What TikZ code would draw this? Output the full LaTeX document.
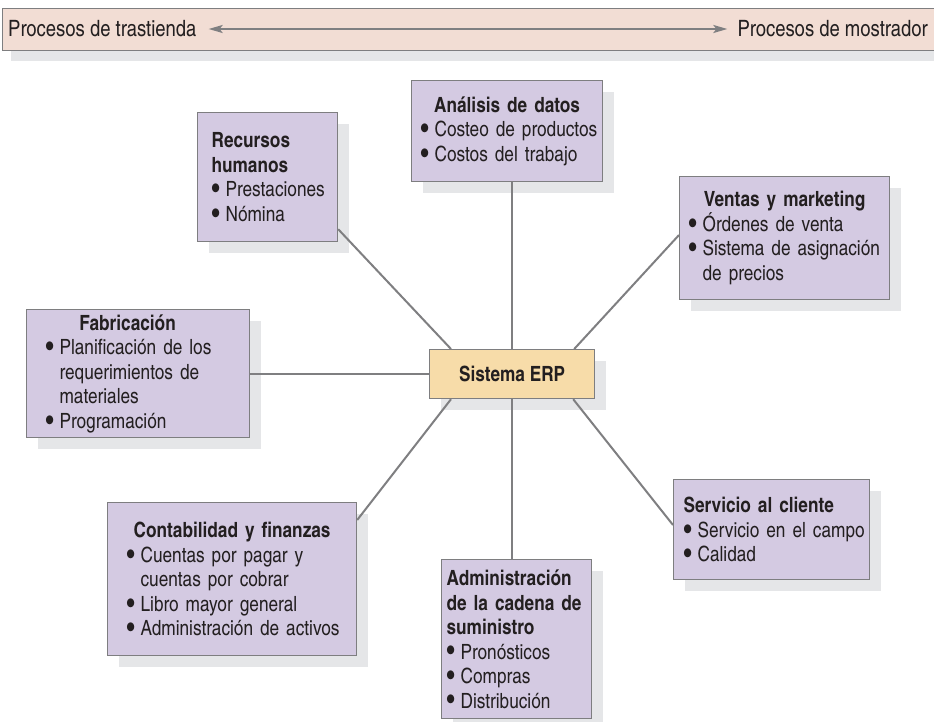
\documentclass[tikz,border=0pt]{standalone}
\usepackage{fontspec}
\usepackage{graphicx}
\setmainfont{texgyreheroscn-regular.otf}[BoldFont=texgyreheroscn-bold.otf]
\usetikzlibrary{shadows,arrows.meta,calc}
\definecolor{ink}{HTML}{231F20}
\definecolor{boxfill}{HTML}{D4CAE2}
\definecolor{erpfill}{HTML}{F7DCA9}
\definecolor{bannerfill}{HTML}{F2DDD4}
\definecolor{edge}{HTML}{7E7E80}
\definecolor{shade}{HTML}{E5E6E8}
\definecolor{linkgray}{HTML}{7F7F81}
\setlength\parindent{0pt}
\hfuzz=200pt
\newlength\bulletw \setlength\bulletw{14pt}
\newcommand\boxtitle[1]{{\bfseries\mbox{#1}\par}}
\newcommand\ctitle[1]{{\centering\bfseries\mbox{#1}\par}}
\newcommand\wtitle[2]{{\bfseries\makebox[#1][c]{#2}\par}}
\newcommand\dotmark{\smash{\raisebox{-0.09em}{\scalebox{1.35}{\textbullet}}}}
\newcommand\bitem[1]{\makebox[\bulletw][l]{\dotmark}\mbox{#1}\par}
\newcommand\cont[1]{\leavevmode\hspace*{\bulletw}\mbox{#1}\par}
\tikzset{
  txt/.style={text=ink, font=\fontsize{21}{24.5}\selectfont},
  panel/.style={txt, draw=edge, line width=1.2pt, fill=boxfill, anchor=north west,
    align=left, inner ysep=0pt,
    drop shadow={shadow xshift=11pt, shadow yshift=-11pt, fill=shade, opacity=1}},
  link/.style={draw=linkgray, line width=2pt},
  bannertxt/.style={text=ink, font=\fontsize{22.5}{26}\selectfont, inner sep=0pt},
}
\begin{document}
\begin{tikzpicture}[x=1pt, y=-1pt]
\useasboundingbox (0,0) rectangle (934,721);
% banner
\node[draw=edge, fill=bannerfill, line width=1.2pt, anchor=north west,
  minimum width=940, minimum height=42,
  drop shadow={shadow xshift=8pt, shadow yshift=-10pt, fill=shade, opacity=1}] (banner) at (2,8) {};
\node[bannertxt, anchor=west] (back) at (8,29) {Procesos de trastienda};
\node[bannertxt, anchor=east] (front) at (928,29) {Procesos de mostrador};
\draw[link, {Stealth[length=14pt,width=8pt,inset=3pt]}-{Stealth[length=14pt,width=8pt,inset=3pt]}]
  ([xshift=12pt]back.east) -- ([xshift=-10pt]front.west);
% boxes
\node[panel, minimum width=140, minimum height=129, inner xsep=14pt, text width=112pt] (rh) at (197,112)
  {\boxtitle{Recursos}\boxtitle{humanos}\bitem{Prestaciones}\bitem{Nómina}};
\node[panel, minimum width=191, minimum height=101, inner xsep=9pt, text width=173pt] (ad) at (411,80)
  {\ctitle{Análisis de datos}\bitem{Costeo de productos}\bitem{Costos del trabajo}};
\node[panel, minimum width=210, minimum height=123, inner xsep=9pt, text width=192pt] (vm) at (679,176)
  {\ctitle{Ventas y marketing}\bitem{Órdenes de venta}\bitem{Sistema de asignación}\cont{de precios}};
\node[panel, minimum width=223, minimum height=128, inner xsep=19pt, text width=185pt] (fa) at (26,309)
  {\wtitle{164pt}{Fabricación}\bitem{Planificación de los}\cont{requerimientos de}\cont{materiales}\bitem{Programación}};
\node[panel, minimum width=249, minimum height=153, inner xsep=19pt, text width=211pt] (cf) at (107,502)
  {\ctitle{Contabilidad y finanzas}\bitem{Cuentas por pagar y}\cont{cuentas por cobrar}\bitem{Libro mayor general}\bitem{Administración de activos}};
\node[panel, minimum width=196, minimum height=100, inner xsep=10pt, text width=176pt] (sc) at (673,479)
  {\boxtitle{Servicio al cliente}\bitem{Servicio en el campo}\bitem{Calidad}};
\node[panel, minimum width=150, minimum height=159, inner xsep=5pt, text width=140pt] (ac) at (441,559)
  {\boxtitle{Administración}\boxtitle{de la cadena de}\boxtitle{suministro}\bitem{Pronósticos}\bitem{Compras}\bitem{Distribución}};
\node[txt, draw=edge, line width=1.2pt, fill=erpfill, anchor=north west, minimum width=165, minimum height=49,
  font=\bfseries\fontsize{21}{24.5}\selectfont,
  drop shadow={shadow xshift=11pt, shadow yshift=-11pt, fill=shade, opacity=1}] (erp) at (429,349) {Sistema ERP};
% connectors
\draw[link] (erp.north) -- (erp.north |- ad.south);
\draw[link] (erp.south) -- (erp.south |- ac.north);
\draw[link] (erp.west) -- (erp.west -| fa.east);
\draw[link] ([xshift=22pt]erp.north west) -- ([yshift=13pt]rh.south east);
\draw[link] ([xshift=-21pt]erp.north east) -- ([yshift=-59pt]vm.north west);
\draw[link] ([xshift=22pt]erp.south west) -- ([yshift=-18pt]cf.north east);
\draw[link] ([xshift=-22pt]erp.south east) -- ([yshift=-46pt]sc.north west);
\end{tikzpicture}
\end{document}
